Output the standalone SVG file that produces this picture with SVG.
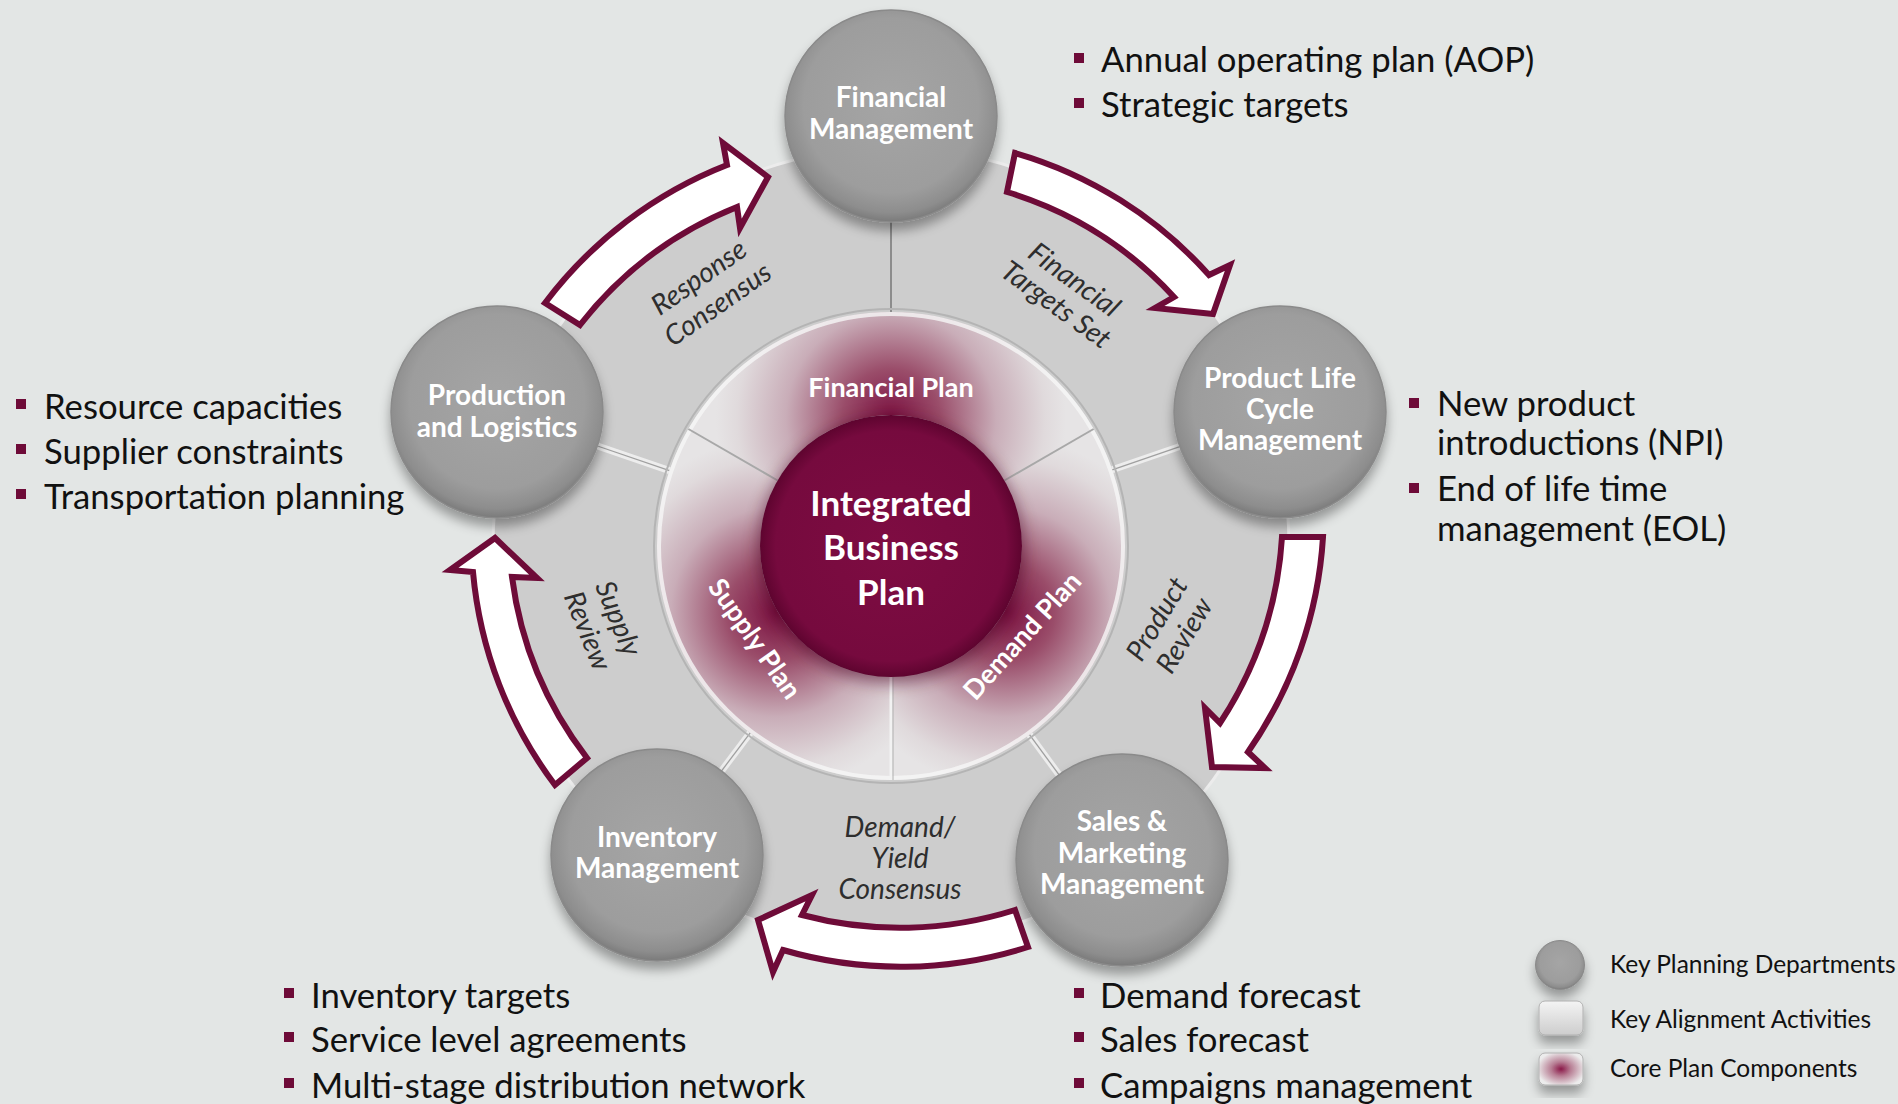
<svg xmlns="http://www.w3.org/2000/svg" width="1898" height="1104" viewBox="0 0 1898 1104">
<defs>
<style>
.bul{font-family:Lato,'Open Sans',sans-serif;font-size:34.7px;fill:#111}
.sq{fill:#6e0b38}
.nl{font-family:Lato,'Open Sans',sans-serif;font-weight:700;font-size:28px;fill:#fff;text-anchor:middle}
.ctr{font-family:Lato,'Open Sans',sans-serif;font-weight:700;font-size:35px;fill:#fff;text-anchor:middle}
.rp{font-family:Lato,'Open Sans',sans-serif;font-weight:700;font-size:27px;fill:#fff;text-anchor:middle}
.it{font-family:Lato,'Open Sans',sans-serif;font-style:italic;font-size:28px;fill:#2e2e2e;text-anchor:middle}
.lg{font-family:Lato,'Open Sans',sans-serif;font-size:24.5px;fill:#111}
.node{fill:url(#gNode);stroke:#8a8a8a;stroke-width:1.5;filter:url(#shadow)}
.arrow{fill:#fff;stroke:#6e0b38;stroke-width:6;stroke-linejoin:miter}
.spoke{stroke:#ededed;stroke-width:7}
.spoke2{stroke:#a0a0a0;stroke-width:1.3}
.div{stroke:#a8a8a8;stroke-width:2}
</style>
<radialGradient id="gNode" cx="0.5" cy="0.45" r="0.55">
<stop offset="0" stop-color="#a5a5a5"/>
<stop offset="0.75" stop-color="#9d9d9d"/>
<stop offset="0.92" stop-color="#8d8d8d"/>
<stop offset="1" stop-color="#7a7a7a"/>
</radialGradient>
<filter id="shadow" x="-30%" y="-30%" width="160%" height="170%">
<feGaussianBlur in="SourceAlpha" stdDeviation="6"/>
<feOffset dy="8"/>
<feComponentTransfer><feFuncA type="linear" slope="0.35"/></feComponentTransfer>
<feMerge><feMergeNode/><feMergeNode in="SourceGraphic"/></feMerge>
</filter>
<filter id="blur8" x="-30%" y="-30%" width="160%" height="160%"><feGaussianBlur stdDeviation="8"/></filter>
<radialGradient id="gFin" gradientUnits="userSpaceOnUse" cx="891" cy="418" r="175">
<stop offset="0" stop-color="#7c1242"/>
<stop offset="0.28" stop-color="#9a4d6a"/>
<stop offset="0.6" stop-color="#c9adb8"/>
<stop offset="0.88" stop-color="#e0dadc"/>
<stop offset="1" stop-color="#e6e4e5"/>
</radialGradient>
<radialGradient id="gDem" gradientUnits="userSpaceOnUse" cx="1006" cy="612" r="175">
<stop offset="0" stop-color="#7c1242"/>
<stop offset="0.28" stop-color="#9a4d6a"/>
<stop offset="0.6" stop-color="#c9adb8"/>
<stop offset="0.88" stop-color="#e0dadc"/>
<stop offset="1" stop-color="#e6e4e5"/>
</radialGradient>
<radialGradient id="gSup" gradientUnits="userSpaceOnUse" cx="776" cy="612" r="175">
<stop offset="0" stop-color="#7c1242"/>
<stop offset="0.28" stop-color="#9a4d6a"/>
<stop offset="0.6" stop-color="#c9adb8"/>
<stop offset="0.88" stop-color="#e0dadc"/>
<stop offset="1" stop-color="#e6e4e5"/>
</radialGradient>
<radialGradient id="gCore" cx="0.5" cy="0.5" r="0.5">
<stop offset="0" stop-color="#7e0c42"/>
<stop offset="0.88" stop-color="#760a3e"/>
<stop offset="1" stop-color="#5e042f"/>
</radialGradient>
<linearGradient id="gLight" x1="0" y1="0" x2="0" y2="1">
<stop offset="0" stop-color="#f4f4f4"/>
<stop offset="1" stop-color="#cdcdcd"/>
</linearGradient>
<radialGradient id="gLegCore" cx="0.5" cy="0.5" r="0.55">
<stop offset="0" stop-color="#8a1848"/>
<stop offset="0.4" stop-color="#b77d93"/>
<stop offset="1" stop-color="#ececec"/>
</radialGradient>
</defs>

<rect width="1898" height="1104" fill="#e3e6e5"/>

<g id="background-wheel">
<circle cx="891" cy="546" r="398" fill="#cdcdcd" stroke="#ececec" stroke-width="3"/>
<line x1="891" y1="312" x2="891" y2="222" style="stroke:#8c8c8c;stroke-width:2"/>
<line class="spoke" x1="669.5" y1="470.6" x2="597.5" y2="446"/>
<line class="spoke2" x1="669.5" y1="470.6" x2="597.5" y2="446"/>
<line class="spoke" x1="1112.2" y1="469.8" x2="1193.6" y2="441.8"/>
<line class="spoke2" x1="1112.2" y1="469.8" x2="1193.6" y2="441.8"/>
<line class="spoke" x1="1029.5" y1="734.6" x2="1080.4" y2="803.9"/>
<line class="spoke2" x1="1029.5" y1="734.6" x2="1080.4" y2="803.9"/>
<line class="spoke" x1="750.2" y1="732.9" x2="698.4" y2="801.6"/>
<line class="spoke2" x1="750.2" y1="732.9" x2="698.4" y2="801.6"/>
</g>

<g id="plan-ring">
<circle cx="891" cy="546" r="237" fill="none" stroke="#b4b4b4" stroke-width="2"/>
<path id="seg-financial" d="M688.4,429 A234,234 0 0 1 1093.6,429 L1004.4,480.5 A131,131 0 0 0 777.6,480.5 Z" fill="url(#gFin)"/>
<path id="seg-demand" d="M1093.6,429 A234,234 0 0 1 891,780 L891,677 A131,131 0 0 0 1004.4,480.5 Z" fill="url(#gDem)"/>
<path id="seg-supply" d="M891,780 A234,234 0 0 1 688.4,429 L777.6,480.5 A131,131 0 0 0 891,677 Z" fill="url(#gSup)"/>
<circle cx="891" cy="546" r="232" fill="none" stroke="#f6f6f6" stroke-width="4" opacity="0.8"/>
<line class="div" x1="688.4" y1="429" x2="777.6" y2="480.5"/>
<line class="div" x1="1093.6" y1="429" x2="1004.4" y2="480.5"/>
<line x1="891" y1="780" x2="891" y2="677" style="stroke:#f2f2f2;stroke-width:3"/>
<line x1="893" y1="780" x2="893" y2="677" style="stroke:#b0b0b0;stroke-width:1"/>
<text class="rp" x="891" y="397">Financial Plan</text>
<g transform="translate(754.5,639) rotate(55)"><text class="rp" x="0" y="9">Supply Plan</text></g>
<g transform="translate(1022.5,636) rotate(-48)"><text class="rp" x="0" y="9">Demand Plan</text></g>
</g>

<g id="node-ibp">
<circle cx="891" cy="550" r="133" fill="#4a0020" opacity="0.55" filter="url(#blur8)"/>
<circle cx="891" cy="546" r="131" fill="url(#gCore)"/>
<text class="ctr" x="891" y="516">Integrated</text>
<text class="ctr" x="891" y="560">Business</text>
<text class="ctr" x="891" y="605">Plan</text>
</g>

<g id="alignment-labels">
<g transform="translate(709.5,292.5) rotate(-35)"><text class="it" x="0" y="-9">Response</text><text class="it" x="0" y="24">Consensus</text></g>
<g transform="translate(1064.5,293) rotate(36)"><text class="it" x="0" y="-7">Financial</text><text class="it" x="0" y="24">Targets Set</text></g>
<g transform="translate(1172,628) rotate(-59)"><text class="it" x="0" y="-8">Product</text><text class="it" x="0" y="24">Review</text></g>
<g transform="translate(602,625) rotate(68)"><text class="it" x="0" y="-8">Supply</text><text class="it" x="0" y="25">Review</text></g>
<text class="it" x="900" y="837">Demand/</text>
<text class="it" x="900" y="868">Yield</text>
<text class="it" x="900" y="899">Consensus</text>
</g>

<g id="connectors">
<path class="arrow" d="M545,303 A419,419 0 0 1 727,165 L723,143 L768,177 L740,228 L737,207 A377,377 0 0 0 580,325 Z"/>
<path class="arrow" d="M1015,153 A414,414 0 0 1 1209,275 L1230,265 L1213,314 L1155,308 L1174,297 A374,374 0 0 0 1007,192 Z"/>
<path class="arrow" d="M1323,537 A420,420 0 0 1 1248,752 L1265,768 L1212,767 L1205,708 L1220,723 A382,382 0 0 0 1282,537 Z"/>
<path class="arrow" d="M1028,947 A421,421 0 0 1 783,950 L773,972 L758,920 L812,895 L802,915 A382,382 0 0 0 1015,910 Z"/>
<path class="arrow" d="M555,785 A415,415 0 0 1 473,572 L450,570 L495,538 L537,578 L512,577 A375,375 0 0 0 587,758 Z"/>
</g>

<g id="node-financial">
<circle class="node" cx="891" cy="116" r="106"/>
<text class="nl" x="891" y="107">Financial</text>
<text class="nl" x="891" y="139">Management</text>
</g>
<g id="node-plc">
<circle class="node" cx="1280" cy="412" r="106"/>
<text class="nl" x="1280" y="388">Product Life</text>
<text class="nl" x="1280" y="419">Cycle</text>
<text class="nl" x="1280" y="450">Management</text>
</g>
<g id="node-sales">
<circle class="node" cx="1122" cy="860" r="106"/>
<text class="nl" x="1122" y="831">Sales &amp;</text>
<text class="nl" x="1122" y="863">Marketing</text>
<text class="nl" x="1122" y="894">Management</text>
</g>
<g id="node-inventory">
<circle class="node" cx="657" cy="855" r="106"/>
<text class="nl" x="657" y="847">Inventory</text>
<text class="nl" x="657" y="878">Management</text>
</g>
<g id="node-production">
<circle class="node" cx="497" cy="412" r="106"/>
<text class="nl" x="497" y="405">Production</text>
<text class="nl" x="497" y="437">and Logistics</text>
</g>

<g id="bullets-financial">
<rect class="sq" x="1074" y="53" width="10" height="10"/>
<text class="bul" x="1101" y="72">Annual operating plan (AOP)</text>
<rect class="sq" x="1074" y="98" width="10" height="10"/>
<text class="bul" x="1101" y="117">Strategic targets</text>
</g>
<g id="bullets-production">
<rect class="sq" x="16" y="399" width="10" height="10"/>
<text class="bul" x="44" y="419">Resource capacities</text>
<rect class="sq" x="16" y="444" width="10" height="10"/>
<text class="bul" x="44" y="464">Supplier constraints</text>
<rect class="sq" x="16" y="489" width="10" height="10"/>
<text class="bul" x="44" y="509">Transportation planning</text>
</g>
<g id="bullets-plc">
<rect class="sq" x="1409" y="398" width="10" height="10"/>
<text class="bul" x="1437" y="416">New product</text>
<text class="bul" x="1437" y="455">introductions (NPI)</text>
<rect class="sq" x="1409" y="483" width="10" height="10"/>
<text class="bul" x="1437" y="501">End of life time</text>
<text class="bul" x="1437" y="541">management (EOL)</text>
</g>
<g id="bullets-inventory">
<rect class="sq" x="284" y="988" width="10" height="10"/>
<text class="bul" x="311" y="1008">Inventory targets</text>
<rect class="sq" x="284" y="1032" width="10" height="10"/>
<text class="bul" x="311" y="1052">Service level agreements</text>
<rect class="sq" x="284" y="1078" width="10" height="10"/>
<text class="bul" x="311" y="1098">Multi-stage distribution network</text>
</g>
<g id="bullets-sales">
<rect class="sq" x="1074" y="988" width="10" height="10"/>
<text class="bul" x="1100" y="1008">Demand forecast</text>
<rect class="sq" x="1074" y="1032" width="10" height="10"/>
<text class="bul" x="1100" y="1052">Sales forecast</text>
<rect class="sq" x="1074" y="1078" width="10" height="10"/>
<text class="bul" x="1100" y="1098">Campaigns management</text>
</g>

<g id="legend">
<circle cx="1560" cy="965" r="24.5" fill="url(#gNode)" stroke="#8a8a8a" stroke-width="1" filter="url(#shadow)"/>
<text class="lg" x="1610" y="973">Key Planning Departments</text>
<rect x="1539" y="1001" width="44" height="34" rx="6" fill="url(#gLight)" stroke="#b0b0b0" stroke-width="1" filter="url(#shadow)"/>
<text class="lg" x="1610" y="1028">Key Alignment Activities</text>
<rect x="1539" y="1053" width="44" height="32" rx="6" fill="url(#gLegCore)" stroke="#b0b0b0" stroke-width="1" filter="url(#shadow)"/>
<text class="lg" x="1610" y="1077">Core Plan Components</text>
</g>
</svg>
